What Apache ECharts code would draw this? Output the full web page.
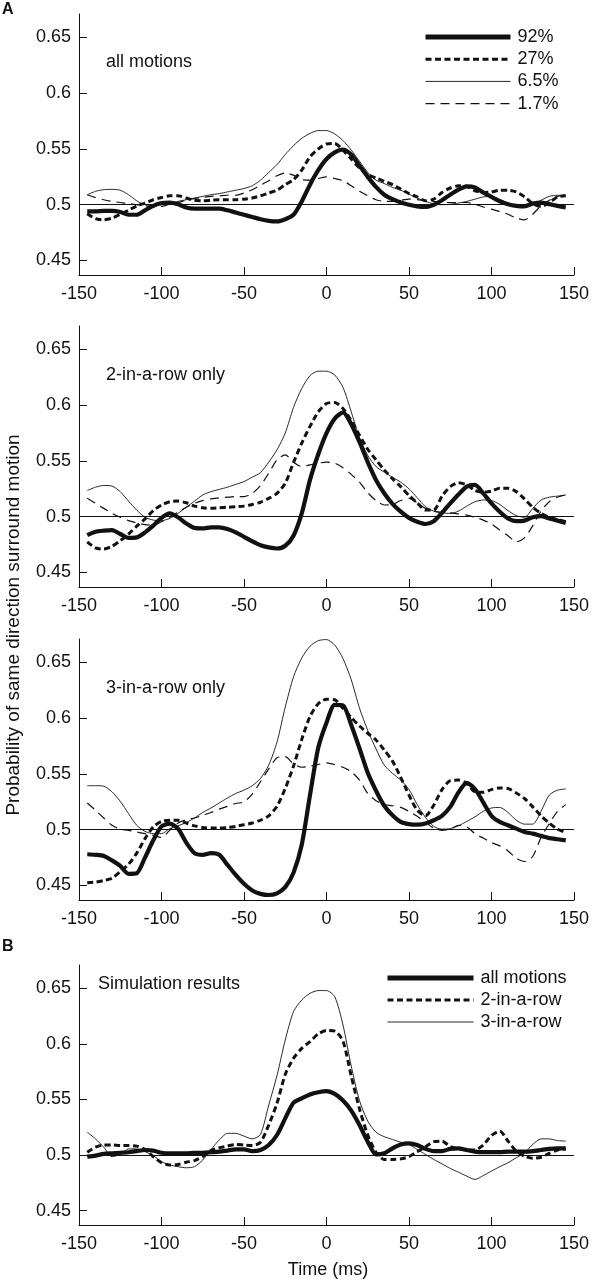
<!DOCTYPE html>
<html>
<head>
<meta charset="utf-8">
<script src="https://cdn.jsdelivr.net/npm/echarts@6/dist/echarts.min.js"></script>
<style>
html,body{margin:0;padding:0;background:#fff;}
#chart{width:592px;height:1280px;}
</style>
</head>
<body>
<div id="chart"></div>
<script>
// ---- data ----
const TIME = [-145,-140,-135,-130,-125,-120,-115,-110,-105,-100,-95,-90,-85,-80,-75,-70,-65,-60,-55,-50,-45,-40,-35,-30,-25,-20,-15,-10,-5,0,5,10,15,20,25,30,35,40,45,50,55,60,65,70,75,80,85,90,95,100,105,110,115,120,125,130,135,140,145];
const X_TICKS = [-150,-100,-50,0,50,100,150];
const Y_TICKS = [0.45,0.5,0.55,0.6,0.65];

const LEGEND_A = ['92%','27%','6.5%','1.7%'];
const LEGEND_B = ['all motions','2-in-a-row','3-in-a-row'];
const PANEL_TEXT = ['all motions','2-in-a-row only','3-in-a-row only','Simulation results'];

// Panel A1: all motions
const A1_92 = [0.494,0.494,0.4945,0.4945,0.4935,0.491,0.491,0.495,0.499,0.5015,0.502,0.5005,0.4975,0.4965,0.4965,0.4965,0.4965,0.495,0.493,0.491,0.489,0.487,0.4855,0.485,0.487,0.491,0.503,0.518,0.531,0.541,0.547,0.5495,0.545,0.535,0.525,0.516,0.509,0.505,0.502,0.5,0.4985,0.498,0.5,0.504,0.509,0.5135,0.5165,0.5155,0.511,0.507,0.503,0.5005,0.499,0.4985,0.501,0.502,0.5005,0.499,0.4975];
const A1_27 = [0.492,0.4875,0.4865,0.488,0.4915,0.495,0.499,0.5015,0.5045,0.5065,0.508,0.508,0.506,0.504,0.5035,0.504,0.5045,0.5045,0.5045,0.505,0.506,0.508,0.5105,0.513,0.518,0.5225,0.531,0.543,0.55,0.5545,0.555,0.549,0.541,0.533,0.527,0.524,0.521,0.518,0.514,0.51,0.507,0.5035,0.505,0.511,0.515,0.517,0.5165,0.5125,0.511,0.5115,0.513,0.513,0.5115,0.507,0.501,0.4985,0.502,0.507,0.508];
const A1_65 = [0.509,0.512,0.5135,0.5138,0.513,0.509,0.5035,0.5,0.4995,0.5,0.501,0.503,0.5045,0.506,0.5075,0.509,0.51,0.5115,0.513,0.5145,0.517,0.522,0.529,0.536,0.545,0.553,0.5595,0.564,0.5665,0.5665,0.5635,0.5575,0.549,0.539,0.529,0.522,0.519,0.5155,0.513,0.5095,0.506,0.503,0.5008,0.5,0.5005,0.5015,0.503,0.505,0.507,0.5075,0.505,0.5015,0.4995,0.4985,0.5,0.504,0.5075,0.5085,0.508];
const A1_17 = [0.509,0.5065,0.5045,0.503,0.502,0.501,0.5,0.499,0.498,0.4985,0.5005,0.502,0.504,0.5055,0.5065,0.5075,0.508,0.5085,0.5085,0.5105,0.5135,0.5175,0.5215,0.526,0.5285,0.5265,0.5225,0.522,0.5235,0.525,0.5235,0.5215,0.517,0.512,0.508,0.5045,0.503,0.503,0.504,0.505,0.5045,0.5035,0.503,0.502,0.502,0.502,0.502,0.5005,0.498,0.496,0.494,0.4915,0.488,0.4865,0.4915,0.499,0.504,0.5075,0.509];

// Panel A2: 2-in-a-row only
const A2_92 = [0.4835,0.4865,0.4875,0.488,0.4845,0.481,0.4815,0.486,0.492,0.499,0.503,0.4995,0.494,0.49,0.4895,0.4905,0.4905,0.489,0.486,0.482,0.478,0.4745,0.4725,0.4715,0.474,0.483,0.503,0.533,0.556,0.575,0.588,0.5935,0.583,0.567,0.549,0.533,0.521,0.5115,0.5045,0.499,0.4955,0.4935,0.496,0.5035,0.512,0.52,0.527,0.5285,0.521,0.512,0.5045,0.4985,0.496,0.4965,0.4995,0.5005,0.4985,0.4965,0.4945];
const A2_27 = [0.4775,0.472,0.471,0.4735,0.4785,0.4845,0.4915,0.498,0.5055,0.5105,0.5135,0.514,0.5125,0.5095,0.508,0.5075,0.508,0.5085,0.509,0.5095,0.511,0.513,0.5165,0.521,0.53,0.5485,0.566,0.581,0.594,0.6015,0.6025,0.597,0.586,0.573,0.5605,0.551,0.542,0.534,0.527,0.519,0.5125,0.506,0.506,0.5185,0.527,0.5305,0.5285,0.5235,0.522,0.523,0.5255,0.5255,0.5225,0.516,0.5085,0.503,0.4995,0.4975,0.4955];
const A2_65 = [0.5235,0.5265,0.528,0.5275,0.5225,0.514,0.506,0.4995,0.497,0.4965,0.4985,0.503,0.5085,0.514,0.5195,0.5225,0.5245,0.5265,0.529,0.5315,0.5355,0.5395,0.549,0.56,0.575,0.598,0.615,0.6265,0.6305,0.6305,0.627,0.616,0.594,0.571,0.555,0.545,0.54,0.5355,0.531,0.525,0.517,0.509,0.505,0.5035,0.503,0.505,0.5095,0.5135,0.515,0.5145,0.511,0.5055,0.501,0.4995,0.5075,0.515,0.5175,0.5185,0.5195];
const A2_17 = [0.5165,0.512,0.5075,0.503,0.4995,0.4965,0.4945,0.493,0.4925,0.4955,0.4995,0.504,0.5085,0.512,0.5145,0.516,0.517,0.5175,0.518,0.518,0.521,0.528,0.539,0.551,0.5555,0.549,0.545,0.5465,0.548,0.549,0.548,0.544,0.538,0.531,0.5215,0.5145,0.5105,0.511,0.5145,0.5165,0.5125,0.5075,0.505,0.504,0.5035,0.5025,0.5015,0.4995,0.497,0.4935,0.488,0.483,0.4775,0.481,0.492,0.505,0.5135,0.5175,0.5195];

// Panel A3: 3-in-a-row only
const A3_92 = [0.478,0.4775,0.4765,0.4725,0.4675,0.4605,0.461,0.475,0.4905,0.503,0.5055,0.501,0.4885,0.479,0.4775,0.479,0.4775,0.4685,0.4595,0.4515,0.4455,0.4425,0.4415,0.443,0.4485,0.4615,0.4865,0.531,0.5735,0.596,0.612,0.6115,0.594,0.573,0.551,0.535,0.5215,0.513,0.507,0.505,0.5045,0.5055,0.5085,0.5125,0.5205,0.5335,0.542,0.5365,0.5245,0.5125,0.507,0.504,0.501,0.498,0.4965,0.4945,0.4925,0.4915,0.4905];
const A3_27 = [0.4525,0.453,0.4545,0.4565,0.4625,0.469,0.479,0.492,0.5025,0.5075,0.5085,0.5085,0.506,0.5035,0.502,0.5015,0.5015,0.502,0.503,0.5045,0.506,0.5085,0.5125,0.521,0.537,0.557,0.581,0.6015,0.613,0.617,0.6165,0.609,0.6005,0.593,0.5865,0.5805,0.5715,0.5615,0.547,0.531,0.5175,0.5125,0.522,0.536,0.544,0.5445,0.5415,0.534,0.5335,0.536,0.5375,0.537,0.533,0.528,0.5205,0.5125,0.506,0.5005,0.4975];
const A3_65 = [0.5395,0.5395,0.539,0.534,0.5255,0.5145,0.504,0.4985,0.4965,0.4965,0.501,0.5035,0.5065,0.5105,0.5155,0.5195,0.524,0.5285,0.5325,0.5355,0.5395,0.546,0.558,0.5785,0.61,0.637,0.654,0.6645,0.6695,0.6705,0.6655,0.6535,0.6345,0.609,0.589,0.5725,0.558,0.5505,0.5445,0.536,0.5225,0.511,0.503,0.5005,0.501,0.5035,0.5075,0.5115,0.5165,0.5195,0.52,0.5155,0.5085,0.505,0.505,0.5165,0.531,0.5355,0.5365];
const A3_17 = [0.524,0.5175,0.5105,0.504,0.5005,0.4995,0.498,0.4965,0.495,0.493,0.4995,0.506,0.509,0.5105,0.513,0.5155,0.5185,0.521,0.5235,0.525,0.532,0.543,0.5545,0.5645,0.5655,0.559,0.556,0.557,0.5585,0.56,0.5585,0.556,0.552,0.5445,0.5325,0.526,0.5225,0.5215,0.52,0.5165,0.512,0.5065,0.5015,0.4995,0.5005,0.504,0.5025,0.4965,0.4925,0.4885,0.4855,0.481,0.4745,0.4715,0.476,0.493,0.5055,0.5165,0.5225];

// Panel B: simulation results
const B_ALL  = [0.4985,0.4995,0.501,0.5015,0.502,0.5025,0.5035,0.5045,0.504,0.502,0.5015,0.5015,0.5015,0.502,0.502,0.5025,0.503,0.504,0.505,0.505,0.5035,0.5045,0.509,0.518,0.533,0.547,0.551,0.5545,0.5565,0.5575,0.555,0.549,0.54,0.527,0.512,0.5005,0.5015,0.506,0.5095,0.5105,0.509,0.5055,0.5035,0.5035,0.5055,0.506,0.5045,0.503,0.5025,0.5025,0.5025,0.503,0.503,0.503,0.5035,0.5045,0.5055,0.506,0.506];
const B_2ROW = [0.5025,0.507,0.509,0.509,0.5085,0.5085,0.508,0.505,0.4985,0.493,0.491,0.4915,0.4935,0.495,0.4985,0.504,0.5065,0.508,0.5095,0.509,0.5085,0.5115,0.527,0.5465,0.5725,0.587,0.596,0.602,0.609,0.612,0.6115,0.6025,0.571,0.5415,0.518,0.5025,0.496,0.496,0.4965,0.4985,0.503,0.5075,0.512,0.5125,0.5075,0.5055,0.5045,0.5045,0.509,0.5175,0.5215,0.5125,0.5035,0.499,0.497,0.498,0.5015,0.5045,0.5055];
const B_3ROW = [0.5205,0.5145,0.507,0.4985,0.5005,0.5055,0.5055,0.503,0.4995,0.494,0.491,0.4895,0.4885,0.4895,0.4955,0.505,0.5135,0.5195,0.5195,0.517,0.5145,0.5185,0.545,0.5715,0.6035,0.629,0.6395,0.6455,0.648,0.648,0.6425,0.617,0.58,0.549,0.5305,0.5205,0.5165,0.514,0.5115,0.5095,0.505,0.5005,0.496,0.492,0.488,0.4845,0.481,0.478,0.4815,0.4855,0.4895,0.493,0.4975,0.502,0.5095,0.5145,0.5145,0.513,0.5125];

// ---- styling ----
const FONT = '"Liberation Sans", Arial, Helvetica, sans-serif';
const INK = '#111';
const STYLE = {
  thick:  {width: 4.2, type: 'solid', cap: 'butt', join: 'round'},
  dotted: {width: 3,   type: [6, 3.5], cap: 'butt', join: 'round'},
  thin:   {width: 0.9, type: 'solid', cap: 'butt', join: 'round'},
  dashed: {width: 1.2, type: [9, 6], cap: 'butt', join: 'round'}
};

const GRIDS = [
  {left: 79, width: 497, top: 14,  height: 261},
  {left: 79, width: 497, top: 326, height: 261},
  {left: 79, width: 497, top: 639, height: 261},
  {left: 79, width: 497, top: 965, height: 260}
];

function pairs(vals){ return TIME.map((t,i)=>[t, vals[i]]); }

function mkSeries(name, idx, vals, st, z){
  return {
    name: name, type: 'line', xAxisIndex: idx, yAxisIndex: idx,
    data: pairs(vals), symbol: 'none', smooth: 0.25, z: z,
    lineStyle: {color: INK, width: st.width, type: st.type, cap: st.cap, join: st.join},
    itemStyle: {color: INK},
    emphasis: {disabled: true}
  };
}

function refLine(idx){
  return {
    type: 'line', xAxisIndex: idx, yAxisIndex: idx, data: [], silent: true, z: 1,
    markLine: {
      silent: true, symbol: ['none','none'], label: {show: false},
      lineStyle: {color: INK, width: 1, type: 'solid'},
      emphasis: {disabled: true},
      data: [{yAxis: 0.5}]
    }
  };
}

const xAxes = GRIDS.map((g, i) => ({
  type: 'value', gridIndex: i, min: -150, max: 150, interval: 50,
  axisLine: {show: true, onZero: false, lineStyle: {color: INK, width: 1}},
  axisTick: {show: true, inside: true, length: 8, lineStyle: {color: INK, width: 1}},
  axisLabel: {color: INK, fontSize: 18, fontFamily: FONT, margin: 10},
  splitLine: {show: false}
}));

const yAxes = GRIDS.map((g, i) => ({
  type: 'value', gridIndex: i, min: 0.437, max: 0.671,
  axisLine: {show: true, onZero: false, lineStyle: {color: INK, width: 1}},
  axisTick: {show: true, inside: true, length: 8, customValues: Y_TICKS, lineStyle: {color: INK, width: 1}},
  axisLabel: {color: INK, fontSize: 18, fontFamily: FONT, margin: 8, customValues: Y_TICKS,
              formatter: v => String(+v.toFixed(2))},
  splitLine: {show: false}
}));

const series = [];
[[A1_17, A1_65, A1_27, A1_92],[A2_17, A2_65, A2_27, A2_92],[A3_17, A3_65, A3_27, A3_92]].forEach((set, i) => {
  series.push(refLine(i));
  series.push(mkSeries(LEGEND_A[3], i, set[0], STYLE.dashed, 2));
  series.push(mkSeries(LEGEND_A[2], i, set[1], STYLE.thin, 3));
  series.push(mkSeries(LEGEND_A[1], i, set[2], STYLE.dotted, 4));
  series.push(mkSeries(LEGEND_A[0], i, set[3], STYLE.thick, 5));
});
series.push(refLine(3));
series.push(mkSeries(LEGEND_B[2], 3, B_3ROW, STYLE.thin, 3));
series.push(mkSeries(LEGEND_B[1], 3, B_2ROW, STYLE.dotted, 4));
series.push(mkSeries(LEGEND_B[0], 3, B_ALL, STYLE.thick, 5));

const legStyles = [STYLE.thick, STYLE.dotted, STYLE.thin, STYLE.dashed];
function legendData(names){
  return names.map((n, i) => ({
    name: n,
    itemStyle: {opacity: 0, borderWidth: 0},
    lineStyle: {color: INK, width: i === 0 ? 5 : legStyles[i].width, type: legStyles[i].type, cap: 'butt'}
  }));
}

const legends = [
  {left: 423, top: 28, padding: 0, orient: 'vertical', itemWidth: 85, itemHeight: 16, itemGap: 4.2,
   selectedMode: false, data: legendData(LEGEND_A), itemStyle: {opacity: 0},
   textStyle: {color: INK, fontSize: 18, fontFamily: FONT, lineHeight: 16, padding: [0,0,0,2]}},
  {left: 385, top: 969, padding: 0, orient: 'vertical', itemWidth: 86, itemHeight: 16, itemGap: 4,
   selectedMode: false, data: legendData(LEGEND_B), itemStyle: {opacity: 0},
   textStyle: {color: INK, fontSize: 18, fontFamily: FONT, lineHeight: 16, padding: [0,0,0,2]}}
];

function txt(x, y, s, extra){
  return Object.assign({type: 'text', x: x, y: y, silent: true,
    style: Object.assign({text: s, fill: INK, font: '18px ' + FONT, textVerticalAlign: 'middle'}, extra || {})});
}

const graphics = [
  txt(2, 10, 'A', {font: 'bold 16px ' + FONT}),
  txt(2, 947, 'B', {font: 'bold 16px ' + FONT}),
  txt(106, 62, PANEL_TEXT[0]),
  txt(106, 375, PANEL_TEXT[1]),
  txt(106, 688, PANEL_TEXT[2]),
  txt(98, 984, PANEL_TEXT[3]),
  txt(328, 1270, 'Time (ms)', {textAlign: 'center'}),
  {type: 'text', x: 14, y: 625, rotation: Math.PI / 2, silent: true,
   style: {text: 'Probability of same direction surround motion', fill: INK,
           font: '19px ' + FONT, textAlign: 'center', textVerticalAlign: 'middle'}}
];

const chart = echarts.init(document.getElementById('chart'), null, {renderer: 'canvas'});
chart.setOption({
  animation: false,
  backgroundColor: '#fff',
  grid: GRIDS,
  xAxis: xAxes,
  yAxis: yAxes,
  legend: legends,
  series: series,
  graphic: graphics
});
</script>
</body>
</html>
